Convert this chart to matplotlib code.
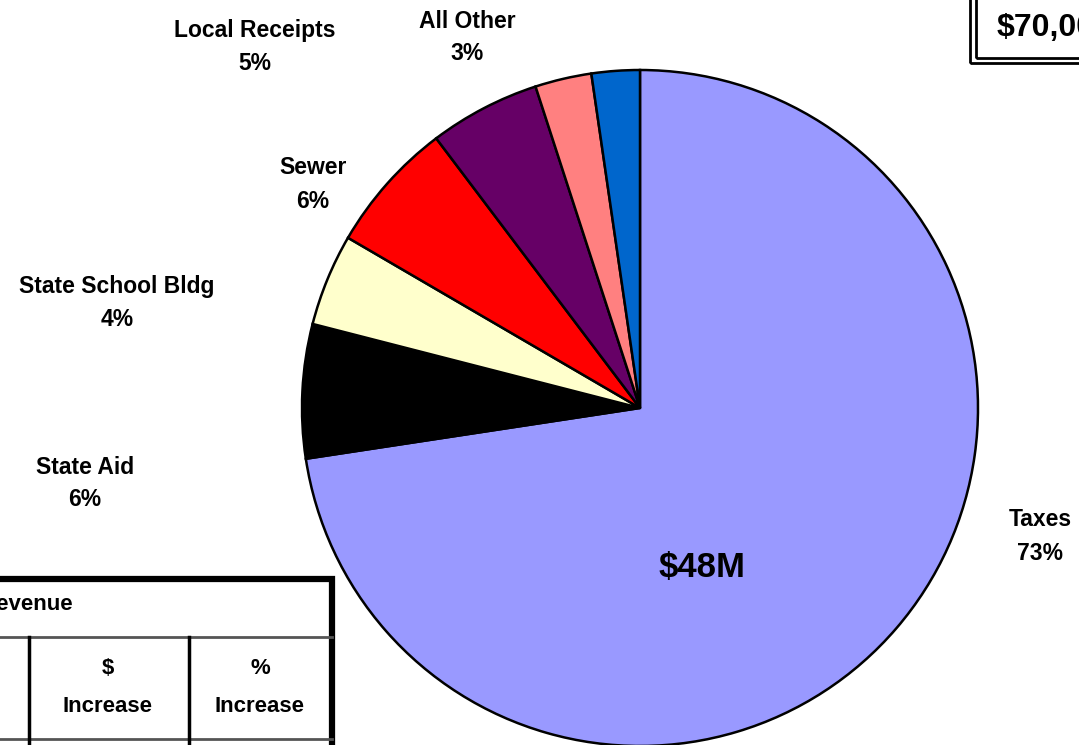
import matplotlib
matplotlib.use("Agg")
import matplotlib.pyplot as plt
from matplotlib.patches import Rectangle

plt.rcParams['font.family'] = ['Liberation Sans', 'DejaVu Sans']

# Revenue sources (percent of total), clockwise from 12 o'clock
categories = ["Taxes", "State Aid", "State School Bldg", "Sewer",
              "Local Receipts", "All Other", "Other Funds"]
shares = [72.6, 6.4, 4.4, 6.3, 5.3, 2.7, 2.3]
colors = ["#9999FF", "#000000", "#FFFFCC", "#FF0000",
          "#660066", "#FF8080", "#0066CC"]
pct_labels = ["73%", "6%", "4%", "6%", "5%", "3%", None]
taxes_amount = "$48M"
total_amount = "$70,000,000"
table_title = "Revenue"
table_cols = [("$", "Increase"), ("%", "Increase")]

W, H = 1079, 745
fig = plt.figure(figsize=(W / 100, H / 100), dpi=100)
ax = fig.add_axes([0, 0, 1, 1])


def Y(y):
    return H - y


cx, cy, r = 640, 408, 338
ax.pie(shares, colors=colors, startangle=90, counterclock=False,
       center=(cx, Y(cy)), radius=r,
       wedgeprops=dict(edgecolor="black", linewidth=1.8))

# category labels around the pie
label_pos = {
    "Taxes": (1040, 520),
    "State Aid": (85, 467),
    "State School Bldg": (117, 286),
    "Sewer": (313, 168),
    "Local Receipts": (255, 31),
    "All Other": (467, 21),
}
for name, pct in zip(categories, pct_labels):
    if pct is None:
        continue
    x, y = label_pos[name]
    ax.text(x, Y(y), name, ha="center", va="center", fontsize=16.5,
            fontweight="bold")
    ax.text(x, Y(y + 33), pct, ha="center", va="center", fontsize=16.5,
            fontweight="bold")

ax.text(702, Y(567), taxes_amount, ha="center", va="center", fontsize=25,
        fontweight="bold")

# total box (double border) in the top-right corner
ax.add_patch(Rectangle((970, Y(63)), 130, 80, fill=False, edgecolor="black",
                       linewidth=2))
ax.add_patch(Rectangle((975.5, Y(57.5)), 130, 80, fill=False,
                       edgecolor="black", linewidth=2))
ax.text(997, Y(28), total_amount, ha="left", va="center", fontsize=23,
        fontweight="bold")

# revenue increase table, bottom-left
ax.add_patch(Rectangle((-20, Y(760)), 352, 760 - 579, fill=False,
                       edgecolor="black", linewidth=4.5))
ax.plot([-5, 332], [Y(637), Y(637)], color="#555555", linewidth=2)
ax.plot([-5, 332], [Y(739), Y(739)], color="#555555", linewidth=2)
for xv in (29, 189):
    ax.plot([xv, xv], [Y(637), Y(760)], color="black", linewidth=2.5)
ax.text(-19, Y(605), table_title, ha="left", va="center", fontsize=16,
        fontweight="bold")
for xc, (top, bottom) in zip((108, 260), table_cols):
    ax.text(xc, Y(668), top, ha="center", va="center", fontsize=16,
            fontweight="bold")
    ax.text(xc, Y(706), bottom, ha="center", va="center", fontsize=16,
            fontweight="bold")

ax.set_xlim(0, W)
ax.set_ylim(0, H)
ax.set_aspect("equal")
ax.axis("off")

fig.savefig("out.png", dpi=100)
